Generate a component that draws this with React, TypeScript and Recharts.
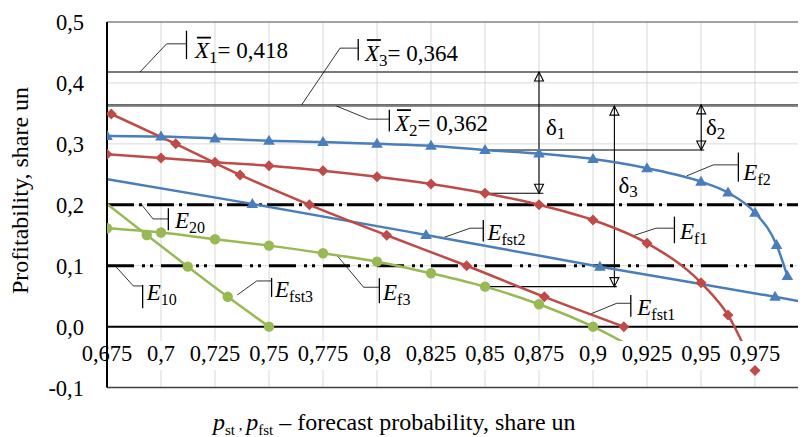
import React from 'react';
import {
  LineChart,
  Line,
  XAxis,
  YAxis,
  CartesianGrid,
  ReferenceLine,
  ReferenceArea,
  ReferenceDot,
} from 'recharts';

const FONT = 'Liberation Serif, DejaVu Serif, serif';
const TXT = { fontFamily: FONT };
const BLUE = '#4A7EBB';
const RED = '#BE4B48';
const GREEN = '#98B954';

// ---------- axes ----------
const xTicks = [0.675, 0.7, 0.725, 0.75, 0.775, 0.8, 0.825, 0.85, 0.875, 0.9, 0.925, 0.95, 0.975, 1.0];
const yTicks = [-0.1, 0, 0.1, 0.2, 0.3, 0.4, 0.5];

// ---------- series ----------
const ef2X = [0.675, 0.7, 0.725, 0.75, 0.775, 0.8, 0.825, 0.85, 0.875, 0.9, 0.925, 0.95, 0.9625, 0.975, 0.985, 0.99];
const ef2Y = [0.313, 0.312, 0.309, 0.305, 0.303, 0.3, 0.297, 0.29, 0.284, 0.275, 0.26, 0.238, 0.22, 0.187, 0.134, 0.083];

const ef1X = [0.675, 0.7, 0.725, 0.75, 0.775, 0.8, 0.825, 0.85, 0.875, 0.9, 0.925, 0.95, 0.9625, 0.975];
const ef1Y = [0.283, 0.277, 0.27, 0.264, 0.256, 0.246, 0.234, 0.219, 0.2, 0.175, 0.137, 0.072, 0.019, -0.072];

const efst1X = [0.677, 0.7068, 0.7366, 0.7687, 0.8045, 0.8415, 0.8775, 0.9143];
const efst1Y = [0.349, 0.3, 0.249, 0.2, 0.15, 0.1, 0.049, 0.0];

const efst2X = [0.675, 0.7423, 0.8227, 0.9032, 0.9843, 1.0];
const efst2Y = [0.242, 0.2015, 0.1506, 0.0985, 0.049, 0.039];

const ef3X = [0.675, 0.7, 0.725, 0.75, 0.775, 0.8, 0.825, 0.85, 0.875, 0.9, 0.925];
const ef3Y = [0.1615, 0.1545, 0.1435, 0.133, 0.1205, 0.1067, 0.0877, 0.0657, 0.0368, 0.0, -0.047];

const efst3X = [0.675, 0.6934, 0.7124, 0.7309, 0.75];
const efst3Y = [0.2015, 0.1505, 0.0985, 0.049, 0.0];

// ---------- levels ----------
const xbar1 = 0.418;
const xbar2 = 0.362;
const xbar3 = 0.364;
const e20 = 0.2;
const e10 = 0.1;

const toPts = (xs: number[], ys: number[]) => xs.map((x, i) => ({ x, y: ys[i] }));
const fmt = (v: number) => String(v).replace('.', ',');
const fmtY = (v: number) => v.toFixed(1).replace('.', ',');

// ---------- annotations (data coordinates) ----------
type Note = {
  main: string;
  sub: string;
  rest?: string;
  over?: boolean;
  at: [number, number];
  bar: [number, number, number];
  lead: [number, number][];
};

const notes: Note[] = [
  { main: 'X', sub: '1', rest: '= ' + fmt(xbar1), over: true, at: [0.7157, 0.4407], bar: [0.7118, 0.4857, 0.4391], lead: [[0.6903, xbar1], [0.7026, 0.4642], [0.7118, 0.4642]] },
  { main: 'X', sub: '3', rest: '= ' + fmt(xbar3), over: true, at: [0.7944, 0.4368], bar: [0.7913, 0.4719, 0.4368], lead: [[0.7651, xbar3], [0.7829, 0.4571], [0.7913, 0.4571]] },
  { main: 'X', sub: '2', rest: '= ' + fmt(xbar2), over: true, at: [0.8083, 0.3218], bar: [0.8057, 0.3558, 0.3202], lead: [[0.7813, xbar2], [0.796, 0.3406], [0.8057, 0.3406]] },
  { main: 'E', sub: 'f2', at: [0.9696, 0.2409], bar: [0.9673, 0.2857, 0.2381], lead: [[0.9434, 0.2475], [0.9557, 0.2655], [0.9673, 0.2655]] },
  { main: 'E', sub: 'f1', at: [0.9403, 0.1435], bar: [0.9377, 0.1806, 0.1369], lead: [[0.9187, 0.1494], [0.9292, 0.1616], [0.9377, 0.1616]] },
  { main: 'E', sub: 'fst2', at: [0.8511, 0.1424], bar: [0.8492, 0.1752, 0.1396], lead: [[0.83, 0.1452], [0.8431, 0.1616], [0.8492, 0.1616]] },
  { main: 'E', sub: 'fst1', at: [0.9205, 0.0192], bar: [0.9175, 0.052, 0.0164], lead: [[0.8978, 0.0192], [0.911, 0.0384], [0.9175, 0.0384]] },
  { main: 'E', sub: 'f3', at: [0.8028, 0.0438], bar: [0.8011, 0.0795, 0.0384], lead: [[0.7813, 0.1177], [0.7938, 0.0647], [0.8011, 0.0647]] },
  { main: 'E', sub: 'fst3', at: [0.7528, 0.0493], bar: [0.7512, 0.0799, 0.0488], lead: [[0.7353, 0.052], [0.7443, 0.075], [0.7512, 0.075]] },
  { main: 'E', sub: '10', at: [0.6934, 0.0438], bar: [0.6915, 0.0685, 0.0302], lead: [[0.6787, e10], [0.6872, 0.0668], [0.6915, 0.0668]] },
  { main: 'E', sub: '20', at: [0.7065, 0.1616], bar: [0.7034, 0.1944, 0.1583], lead: [[0.6911, e20], [0.6963, 0.1768], [0.7034, 0.1768]] },
];

const deltas = [
  { sub: '1', x: 0.875, top: xbar1, bot: ef1Y[7], hFrom: 0.85, hTo: 0.877, at: [0.8782, 0.3148] },
  { sub: '2', x: 0.9501, top: xbar3, bot: ef2Y[7], hFrom: 0.85, hTo: 0.9515, at: [0.9523, 0.3148] },
  { sub: '3', x: 0.9099, top: xbar2, bot: ef3Y[7], hFrom: 0.85, hTo: 0.911, at: [0.9118, 0.2195] },
];

// ---------- renderers ----------
const makeDot = (kind: 'tri' | 'dia' | 'cir', color: string, skip: number[]) => (p: any) => {
  const { cx, cy, index } = p;
  const key = `dot-${kind}-${index}`;
  if (cx == null || cy == null || skip.includes(index)) return <g key={key} />;
  if (kind === 'tri')
    return <path key={key} d={`M${cx},${cy - 6}L${cx + 5.8},${cy + 4}L${cx - 5.8},${cy + 4}Z`} fill={color} />;
  if (kind === 'dia')
    return <path key={key} d={`M${cx},${cy - 5.5}L${cx + 5.5},${cy}L${cx},${cy + 5.5}L${cx - 5.5},${cy}Z`} fill={color} />;
  return <circle key={key} cx={cx} cy={cy} r={5.2} fill={color} />;
};

const arrowShape = (p: any) => {
  const { x1, y1, x2, y2 } = p;
  const top = Math.min(y1, y2);
  const bot = Math.max(y1, y2);
  const h = 9;
  const w = 4.5;
  return (
    <g>
      <line x1={x1} y1={top} x2={x2} y2={bot} stroke="#000" strokeWidth={1.1} />
      <path d={`M${x1},${top}L${x1 - w},${top + h}L${x1 + w},${top + h}Z`} fill="none" stroke="#000" strokeWidth={1.1} />
      <path d={`M${x1},${bot}L${x1 - w},${bot - h}L${x1 + w},${bot - h}Z`} fill="none" stroke="#000" strokeWidth={1.1} />
    </g>
  );
};

const noteShape = (n: Note) => (p: any) => {
  const { cx, cy } = p;
  const isX = n.main === 'X';
  const subSize = isX ? 17 : 16;
  const subDy = 5;
  return (
    <g>
      <text x={cx} y={cy} style={TXT} fontSize={23} fill="#000">
        <tspan fontStyle="italic">{n.main}</tspan>
        <tspan fontSize={subSize} dy={subDy}>{n.sub}</tspan>
        {n.rest ? <tspan dy={-subDy}>{n.rest}</tspan> : null}
      </text>
      {n.over ? <line x1={cx + 2} x2={cx + 16} y1={cy - 20.5} y2={cy - 20.5} stroke="#000" strokeWidth={1.8} /> : null}
    </g>
  );
};

const deltaShape = (sub: string) => (p: any) => {
  const { cx, cy } = p;
  return (
    <text x={cx} y={cy} style={TXT} fontSize={23} fill="#000">
      <tspan>δ</tspan>
      <tspan fontSize={17} dy={4}>{sub}</tspan>
    </text>
  );
};

const XTick = (p: any) => {
  const { x, y, payload } = p;
  if (payload.value >= 1) return <g />;
  return (
    <text x={x} y={y - 26.6} textAnchor="middle" style={TXT} fontSize={22.5} fill="#000">
      {fmt(payload.value)}
    </text>
  );
};

const YTick = (p: any) => {
  const { x, y, payload } = p;
  return (
    <text x={x} y={y + 8} textAnchor="end" style={TXT} fontSize={22.5} fill="#000">
      {fmtY(payload.value)}
    </text>
  );
};

const XTitle = (p: any) => {
  const vb = p.viewBox || { x: 99, y: 379.6 };
  return (
    <text x={vb.x + 106} y={vb.y + 42.4} style={TXT} fontSize={24} fill="#000">
      <tspan fontStyle="italic">p</tspan>
      <tspan fontSize={15} dy={5}>st</tspan>
      <tspan fontSize={15} dy={-5}> , </tspan>
      <tspan fontStyle="italic">p</tspan>
      <tspan fontSize={15} dy={5}>fst</tspan>
      <tspan dy={-5}> – forecast probability, share un</tspan>
    </text>
  );
};

const YTitle = (p: any) => {
  const vb = p.viewBox || { x: 0, y: 14 };
  const x = vb.x + 20;
  const y = vb.y + 168.5;
  return (
    <text x={x} y={y} transform={`rotate(-90, ${x}, ${y})`} textAnchor="middle" style={TXT} fontSize={24} fill="#000">
      Profitability, share un
    </text>
  );
};

export default function App() {
  return (
    <div style={{ position: 'relative', width: 798, height: 429, overflow: 'hidden', fontFamily: FONT }}>
      <LineChart width={812} height={429} margin={{ top: 14, right: 11, bottom: 0, left: 0 }} style={TXT}>
        <CartesianGrid stroke="#d9d9d9" strokeWidth={1} />

        <ReferenceLine y={0.5} stroke="#595959" strokeWidth={1} zIndex={300} />
        <ReferenceLine y={xbar1} stroke="#7a7a7a" strokeWidth={2} zIndex={300} />
        <ReferenceLine y={xbar3} stroke="#6a6a6a" strokeWidth={1.5} zIndex={300} />
        <ReferenceLine y={xbar2} stroke="#6a6a6a" strokeWidth={1.5} zIndex={300} />
        <ReferenceLine y={e20} stroke="#000" strokeWidth={3} strokeDasharray="27 5 3 5" zIndex={300} />
        <ReferenceLine y={e10} stroke="#000" strokeWidth={3} strokeDasharray="27 8 3 5 3 8" zIndex={300} />
        <ReferenceLine y={0} stroke="#000" strokeWidth={2} zIndex={300} />

        {deltas.map((d) => (
          <ReferenceLine key={`dh${d.sub}`} segment={[{ x: d.hFrom, y: d.bot }, { x: d.hTo, y: d.bot }]} stroke="#000" strokeWidth={1.1} zIndex={300} />
        ))}
        {deltas.map((d) => (
          <ReferenceLine key={`dv${d.sub}`} segment={[{ x: d.x, y: d.top }, { x: d.x, y: d.bot }]} shape={arrowShape} zIndex={300} />
        ))}

        {notes.map((n, i) =>
          n.lead.slice(1).map((pt, j) => (
            <ReferenceLine
              key={`ld${i}-${j}`}
              segment={[{ x: n.lead[j][0], y: n.lead[j][1] }, { x: pt[0], y: pt[1] }]}
              stroke="#000"
              strokeWidth={0.8}
              zIndex={300}
            />
          ))
        )}
        {notes.map((n, i) => (
          <ReferenceLine key={`bar${i}`} segment={[{ x: n.bar[0], y: n.bar[1] }, { x: n.bar[0], y: n.bar[2] }]} stroke="#000" strokeWidth={1.3} zIndex={300} />
        ))}

        <Line data={toPts(efst2X, efst2Y)} dataKey="y" type="monotone" stroke={BLUE} strokeWidth={2.5} dot={makeDot('tri', BLUE, [0, efst2X.length - 1])} activeDot={false} isAnimationActive={false} zIndex={400} />
        <Line data={toPts(ef2X, ef2Y)} dataKey="y" type="monotone" stroke={BLUE} strokeWidth={2.5} dot={makeDot('tri', BLUE, [])} activeDot={false} isAnimationActive={false} zIndex={400} />
        <Line data={toPts(efst1X, efst1Y)} dataKey="y" type="monotone" stroke={RED} strokeWidth={2.5} dot={makeDot('dia', RED, [])} activeDot={false} isAnimationActive={false} zIndex={400} />
        <Line data={toPts(ef1X, ef1Y)} dataKey="y" type="monotone" stroke={RED} strokeWidth={2.5} dot={makeDot('dia', RED, [])} activeDot={false} isAnimationActive={false} zIndex={400} />
        <Line data={toPts(ef3X, ef3Y)} dataKey="y" type="monotone" stroke={GREEN} strokeWidth={2.5} dot={makeDot('cir', GREEN, [ef3X.length - 1])} activeDot={false} isAnimationActive={false} zIndex={400} />
        <Line data={toPts(efst3X, efst3Y)} dataKey="y" type="monotone" stroke={GREEN} strokeWidth={2.5} dot={makeDot('cir', GREEN, [0])} activeDot={false} isAnimationActive={false} zIndex={400} />

        <ReferenceArea x1={0.6755} x2={1.0} y1={-0.0712} y2={-0.0235} fill="#ffffff" fillOpacity={1} stroke="none" zIndex={450} />

        <XAxis
          dataKey="x"
          type="number"
          domain={[0.675, 1.0]}
          ticks={xTicks}
          interval={0}
          allowDataOverflow
          height={49.4}
          tickLine={false}
          tickSize={0}
          tickMargin={0}
          axisLine={{ stroke: '#404040', strokeWidth: 1.5 }}
          tick={XTick}
          label={XTitle}
          zIndex={500}
        />
        <YAxis
          type="number"
          domain={[-0.1, 0.5]}
          ticks={yTicks}
          interval={0}
          allowDataOverflow
          width={99}
          tickLine={false}
          tickSize={0}
          tickMargin={23}
          axisLine={{ stroke: '#000', strokeWidth: 2 }}
          tick={YTick}
          label={YTitle}
          zIndex={500}
        />

        {notes.map((n, i) => (
          <ReferenceDot key={`nt${i}`} x={n.at[0]} y={n.at[1]} r={0} ifOverflow="visible" shape={noteShape(n)} zIndex={600} />
        ))}
        {deltas.map((d) => (
          <ReferenceDot key={`dt${d.sub}`} x={d.at[0]} y={d.at[1]} r={0} ifOverflow="visible" shape={deltaShape(d.sub)} zIndex={600} />
        ))}
      </LineChart>
    </div>
  );
}
